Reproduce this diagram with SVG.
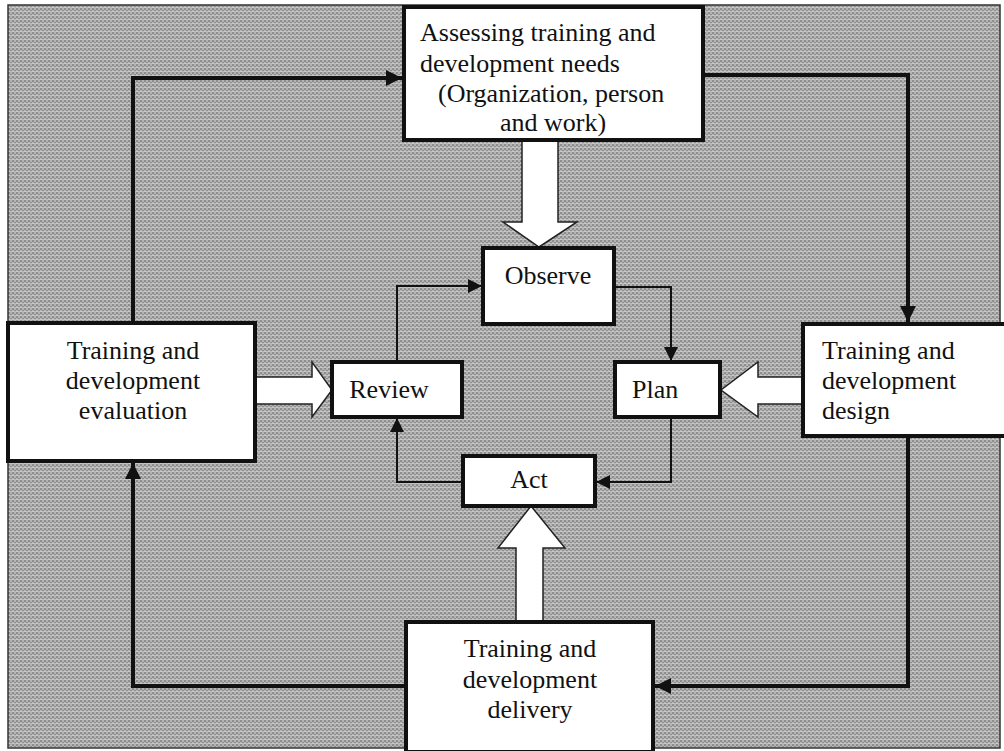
<svg xmlns="http://www.w3.org/2000/svg" width="1004" height="751" viewBox="0 0 1004 751">
<defs>
<pattern id="bg" width="4" height="4" patternUnits="userSpaceOnUse">
<rect width="4" height="4" fill="#b4b4b4"/>
<rect x="0" y="0" width="2" height="2" fill="#8e8e8e"/>
<rect x="2" y="2" width="2" height="2" fill="#8e8e8e"/>
<rect x="0" y="3" width="4" height="0.6" fill="#d8d8d8"/>
</pattern>
<marker id="ah" viewBox="0 0 10 10" refX="10" refY="5" markerWidth="4" markerHeight="4" markerUnits="strokeWidth" orient="auto">
<path d="M0,0 L10,5 L0,10 z" fill="#111"/>
</marker>
<marker id="ahs" viewBox="0 0 10 10" refX="10" refY="5" markerWidth="7" markerHeight="7" markerUnits="strokeWidth" orient="auto">
<path d="M0,0 L10,5 L0,10 z" fill="#111"/>
</marker>
</defs>
<style>
.box{fill:#fff;stroke:#111;stroke-width:4}
.t{font-family:"Liberation Serif","Times New Roman",serif;font-size:26px;fill:#111}
.c{text-anchor:middle}
.outer{fill:none;stroke:#111;stroke-width:4}
.inner{fill:none;stroke:#111;stroke-width:2}
.block{fill:#fff;stroke:#222;stroke-width:1.5}
</style>
<rect x="8" y="5" width="992" height="743" fill="url(#bg)" stroke="#333" stroke-width="1.5"/>

<g id="connectors">
<polyline class="outer" points="133,323 133,78 402,78" marker-end="url(#ah)"/>
<polyline class="outer" points="705,75 908,75 908,322" marker-end="url(#ah)"/>
<polyline class="outer" points="908,438 908,686 655,686" marker-end="url(#ah)"/>
<polyline class="outer" points="404,686 133,686 133,463" marker-end="url(#ah)"/>
<polyline class="inner" points="614,287 671,287 671,361" marker-end="url(#ahs)"/>
<polyline class="inner" points="671,417 671,482 596,482" marker-end="url(#ahs)"/>
<polyline class="inner" points="463,482 397,482 397,418" marker-end="url(#ahs)"/>
<polyline class="inner" points="397,362 397,286 482,286" marker-end="url(#ahs)"/>
<polygon class="block" points="522,141 558,141 558,222 577,222 539,247 503,222 522,222"/>
<polygon class="block" points="256,377 312,377 312,362 332,390 312,417 312,404 256,404"/>
<polygon class="block" points="802,377 758,377 758,362 721,390 758,417 758,404 802,404"/>
<polygon class="block" points="516,621 543,621 543,548 565,548 531,506 498,548 516,548"/>
</g>

<g id="assess">
<rect class="box" x="404" y="7" width="299" height="133"/>
<text class="t" x="420" y="41">Assessing training and</text>
<text class="t" x="420" y="72">development needs</text>
<text class="t" x="438" y="102">(Organization, person</text>
<text class="t" x="500" y="131">and work)</text>
</g>

<g id="observe">
<rect class="box" x="483" y="248" width="131" height="76"/>
<text class="t c" x="548" y="284">Observe</text>
</g>

<g id="plan">
<rect class="box" x="615" y="362" width="105" height="55"/>
<text class="t" x="632" y="398">Plan</text>
</g>

<g id="review">
<rect class="box" x="332" y="362" width="130" height="55"/>
<text class="t c" x="389" y="398">Review</text>
</g>

<g id="act">
<rect class="box" x="463" y="456" width="132" height="50"/>
<text class="t c" x="529" y="488">Act</text>
</g>

<g id="evaluation">
<rect class="box" x="8" y="323" width="247" height="138"/>
<text class="t c" x="133" y="359">Training and</text>
<text class="t c" x="133" y="389">development</text>
<text class="t c" x="133" y="419">evaluation</text>
</g>

<g id="design">
<rect class="box" x="803" y="324" width="205" height="112"/>
<text class="t" x="822" y="359">Training and</text>
<text class="t" x="822" y="389">development</text>
<text class="t" x="822" y="419">design</text>
</g>

<g id="delivery">
<rect class="box" x="406" y="622" width="247" height="130"/>
<text class="t c" x="530" y="657">Training and</text>
<text class="t c" x="530" y="688">development</text>
<text class="t c" x="530" y="718">delivery</text>
</g>
</svg>
